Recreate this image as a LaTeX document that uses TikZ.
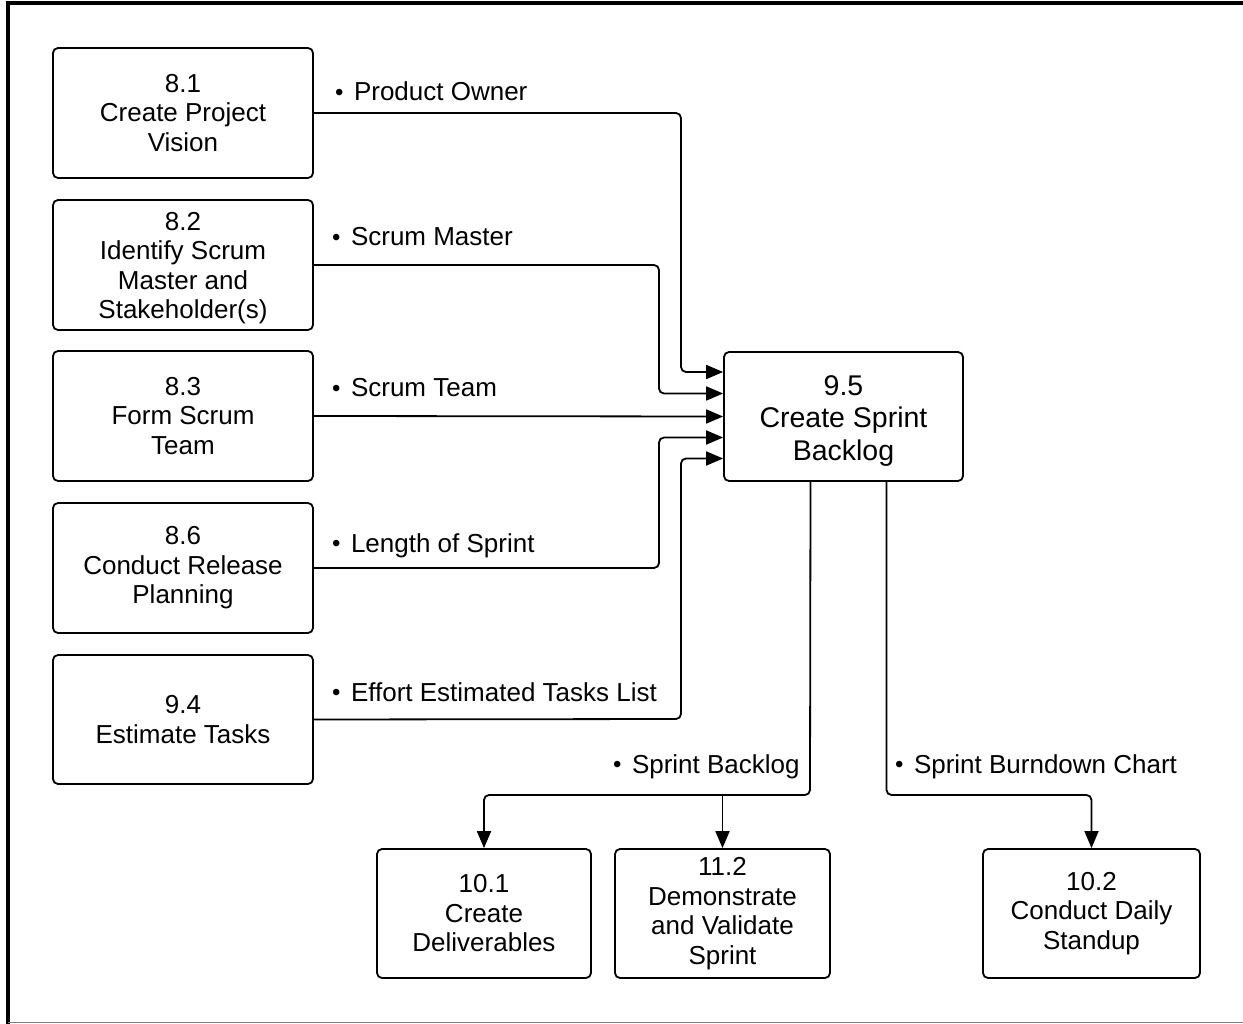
\documentclass[tikz,border=0pt]{standalone}
\usepackage{fontspec}
\setmainfont{Liberation Sans}
\usetikzlibrary{arrows.meta}
\newcommand{\bul}{\raisebox{0.8pt}{\fontsize{24}{24}\selectfont\textbullet}\hspace{0.4em}}
\begin{document}
\begin{tikzpicture}[x=1pt,y=-1pt,
  box/.style={draw, line width=1.8pt, rounded corners=5pt, align=center, inner sep=0pt,
    font=\fontsize{26}{29.5}\selectfont},
  lbl/.style={inner sep=0pt, font=\fontsize{26}{29}\selectfont},
  conn/.style={draw, line width=1.8pt, rounded corners=5pt, -{Triangle[length=17pt,width=14pt]}},
  plain/.style={draw, line width=1.8pt, rounded corners=5pt}]
\useasboundingbox (0,0) rectangle (1243,1024);
% frame
\draw[line width=4pt] (8,1024) -- (8,3.5) -- (1243,3.5);
\draw[gray, line width=1pt] (8,1022) -- (1243,1022);
% boxes
\node[box, minimum width=260pt, minimum height=130pt] (n81) at (183,113) {8.1\\Create Project\\Vision};
\node[box, minimum width=260pt, minimum height=130pt] (n82) at (183,265) {\rule{0pt}{24pt}8.2\\Identify Scrum\\Master and\\Stakeholder(s)};
\node[box, minimum width=260pt, minimum height=130pt] (n83) at (183,416) {8.3\\Form Scrum\\Team};
\node[box, minimum width=260pt, minimum height=130pt] (n86) at (183,568) {8.6\\Conduct Release\\Planning};
\node[box, minimum width=260pt, minimum height=129pt] (n94) at (183,719.5) {9.4\\Estimate Tasks};
\node[box, minimum width=239pt, minimum height=129pt, font=\fontsize{28.5}{32.5}\selectfont] (n95) at (843.5,416.5) {\rule{0pt}{28pt}9.5\\Create Sprint\\Backlog};
\node[box, minimum width=214pt, minimum height=129pt] (n101) at (484,913.5) {10.1\\Create\\Deliverables};
\node[box, minimum width=215pt, minimum height=129pt] (n112) at (722.5,913.5) {11.2\\Demonstrate\\and Validate\\Sprint};
\node[box, minimum width=217pt, minimum height=129pt] (n102) at (1091.5,913.5) {10.2\\Conduct Daily\\Standup};
% labels
\node[lbl, anchor=base west] (l1) at (335,101) {\bul Product Owner};
\node[lbl, anchor=base west] (l2) at (332,246) {\bul Scrum Master};
\node[lbl, anchor=base west] (l3) at (332,397) {\bul Scrum Team};
\node[lbl, anchor=base west] (l4) at (332,552) {\bul Length of Sprint};
\node[lbl, anchor=base west] (l5) at (332,701) {\bul Effort Estimated Tasks List};
\node[lbl, anchor=base west] (l6) at (613,773) {\bul Sprint Backlog};
\node[lbl, anchor=base west] (l7) at (895,773) {\bul Sprint Burndown Chart};
% input connectors
\draw[conn] (n81.east) -- (681,113) -- (681,372) -- ([yshift=44.5pt]n95.west);
\draw[conn] (n82.east) -- (659,265) -- (659,393.5) -- ([yshift=23pt]n95.west);
\draw[conn] (n83.east) -- (n95.west);
\draw[conn] (n86.east) -- (659,568) -- (659,437.5) -- ([yshift=-21pt]n95.west);
\draw[conn] (n94.east) -- (681,719) -- (681,458.5) -- ([yshift=-42pt]n95.west);
% output connectors
\coordinate (j1) at (722.5,795);
\draw[conn] ([xshift=-33pt]n95.south) -- (810,795) -- (484,795) -- (n101.north);
\draw[conn] (j1) -- (n112.north);
\draw[conn] ([xshift=43pt]n95.south) -- (886.5,795) -- (1091.5,795) -- (n102.north);
\end{tikzpicture}
\end{document}
